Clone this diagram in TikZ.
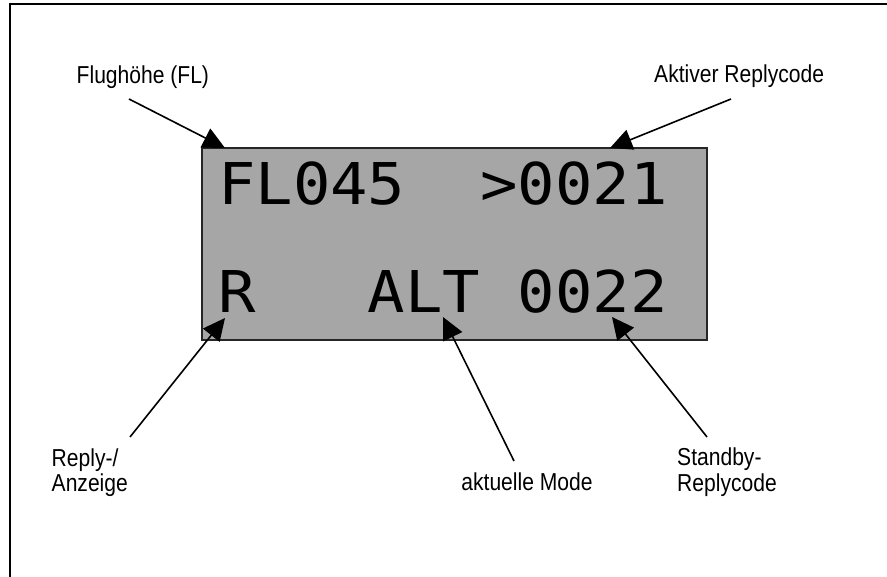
\documentclass[tikz,border=0pt]{standalone}
\usepackage{fontspec}
\newfontfamily\annofont{Liberation Sans}[FakeStretch=0.86]
\newfontfamily\lcdfont{DejaVu Sans Mono}[FakeStretch=1.08]
\usetikzlibrary{arrows.meta,positioning}
\definecolor{lcdgrau}{RGB}{166,166,166}

\begin{document}
\begin{tikzpicture}[
    x=1pt, y=-1pt,
    anno/.style={font=\annofont\fontsize{24.5}{25}\selectfont, inner sep=0pt, align=left, anchor=base west},
    lcd/.style={draw=black!85, line width=1.5pt, fill=lcdgrau, minimum width=505pt, minimum height=192pt, inner sep=0pt},
    zeile/.style={font=\lcdfont\fontsize{57.6}{60}\selectfont, inner sep=0pt, anchor=base west},
    arrow/.style={-{Triangle[length=22pt, width=21pt]}, line width=1.6pt},
]
    \useasboundingbox (0,0) rectangle (887,577);
    % Rahmen, rechts und unten abgeschnitten
    \draw[line width=2pt] (9.5,590) |- (900,4.5);

    % Display
    \node[lcd] (display) at (454.5,244) {};
    \node[zeile] (row1) at (218,205) {FL045\ \ >0021};
    \node[zeile] (row2) at (218,313) {R\ \ \ ALT 0022};

    % Beschriftungen
    \node[anno] (fl) at (76.5,84) {Flughöhe (FL)};
    \node[anno] (akt) at (654,83) {Aktiver Replycode};
    \node[anno] (reply) at (51.5,492) {Reply-/\\Anzeige};
    \node[anno, anchor=base] (mode) at (527,490) {aktuelle Mode};
    \node[anno] (standby) at (677,491) {Standby-\\Replycode};

    % Pfeilenden
    \coordinate (fl-start) at (129,99);
    \coordinate (fl-tip) at (225,148);
    \coordinate (akt-start) at (731,99);
    \coordinate (akt-tip) at (610,148);
    \coordinate (reply-start) at (130,437);
    \coordinate (reply-tip) at (225,318);
    \coordinate (mode-start) at (514,461);
    \coordinate (mode-tip) at (443,317);
    \coordinate (standby-start) at (707,437);
    \coordinate (standby-tip) at (612,317);

    \draw[arrow] (fl-start) -- (fl-tip);
    \draw[arrow] (akt-start) -- (akt-tip);
    \draw[arrow] (reply-start) -- (reply-tip);
    \draw[arrow] (mode-start) -- (mode-tip);
    \draw[arrow] (standby-start) -- (standby-tip);
\end{tikzpicture}
\end{document}
